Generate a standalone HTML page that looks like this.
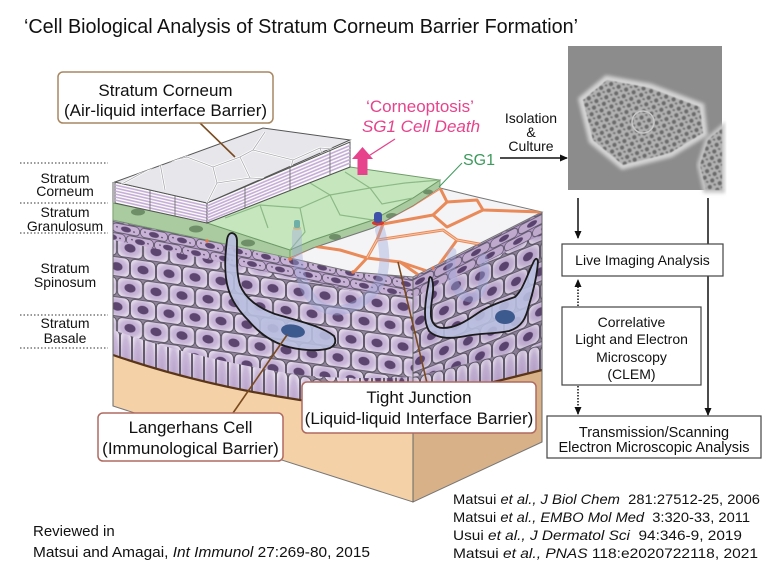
<!DOCTYPE html>
<html><head><meta charset="utf-8"><style>
html,body{margin:0;padding:0;background:#fff;}
svg{display:block;}
text{font-family:"Liberation Sans",Arial,sans-serif;fill:#111;}
</style></head><body>
<svg width="768" height="576" viewBox="0 0 768 576" xmlns="http://www.w3.org/2000/svg">
<defs>
<radialGradient id="cg" cx="50%" cy="50%" r="62%"><stop offset="0" stop-color="#b9a3cb"/><stop offset="0.6" stop-color="#c9b7d8"/><stop offset="1" stop-color="#efe9f3"/></radialGradient>
<pattern id="spin" width="26" height="40" patternUnits="userSpaceOnUse" patternTransform="skewY(8)">
<rect width="26" height="40" fill="#8f8498"/>
<rect x="0.5" y="0.5" width="25" height="19" rx="5" fill="url(#cg)" stroke="#4e4858" stroke-width="0.8"/>
<ellipse cx="13" cy="10" rx="5.5" ry="4.2" fill="#5c4670"/>
<rect x="-12.5" y="20.5" width="25" height="19" rx="5" fill="url(#cg)" stroke="#4e4858" stroke-width="0.8"/>
<rect x="13.5" y="20.5" width="25" height="19" rx="5" fill="url(#cg)" stroke="#4e4858" stroke-width="0.8"/>
<ellipse cx="0" cy="30" rx="5.5" ry="4.2" fill="#5c4670"/>
<ellipse cx="26" cy="30" rx="5.5" ry="4.2" fill="#5c4670"/>
</pattern>
<pattern id="spinR" width="24" height="40" patternUnits="userSpaceOnUse" patternTransform="skewY(-22)">
<rect width="24" height="40" fill="#8f8498"/>
<rect x="0.5" y="0.5" width="23" height="19" rx="5" fill="url(#cg)" stroke="#4e4858" stroke-width="0.8"/>
<ellipse cx="12" cy="10" rx="5" ry="4.2" fill="#5c4670"/>
<rect x="-11.5" y="20.5" width="23" height="19" rx="5" fill="url(#cg)" stroke="#4e4858" stroke-width="0.8"/>
<rect x="12.5" y="20.5" width="23" height="19" rx="5" fill="url(#cg)" stroke="#4e4858" stroke-width="0.8"/>
<ellipse cx="0" cy="30" rx="5" ry="4.2" fill="#5c4670"/>
<ellipse cx="24" cy="30" rx="5" ry="4.2" fill="#5c4670"/>
</pattern>
<pattern id="bas" width="12" height="60" patternUnits="userSpaceOnUse" patternTransform="skewY(14)">
<rect width="12" height="60" fill="#8f8498"/>
<rect x="0.5" y="0.5" width="11" height="59" rx="5" fill="url(#cg)" stroke="#4e4858" stroke-width="0.8"/>
<ellipse cx="6" cy="44" rx="3" ry="6.5" fill="#5c4670"/>
</pattern>
<pattern id="basR" width="12" height="60" patternUnits="userSpaceOnUse" patternTransform="skewY(-14)">
<rect width="12" height="60" fill="#8f8498"/>
<rect x="0.5" y="0.5" width="11" height="59" rx="5" fill="url(#cg)" stroke="#4e4858" stroke-width="0.8"/>
<ellipse cx="6" cy="44" rx="3" ry="6.5" fill="#5c4670"/>
</pattern>
<pattern id="gran" width="28" height="20" patternUnits="userSpaceOnUse" patternTransform="skewY(11)">
<rect width="28" height="20" fill="#b69cc8"/>
<rect x="0.5" y="0.5" width="27" height="9" rx="4" fill="#c8b3d6" stroke="#4e4858" stroke-width="0.7"/>
<rect x="-13.5" y="10.5" width="27" height="9" rx="4" fill="#c8b3d6" stroke="#4e4858" stroke-width="0.7"/>
<rect x="14.5" y="10.5" width="27" height="9" rx="4" fill="#c8b3d6" stroke="#4e4858" stroke-width="0.7"/>
<ellipse cx="14" cy="5" rx="5" ry="2.8" fill="#5c4670"/>
<ellipse cx="0" cy="15" rx="5" ry="2.8" fill="#5c4670"/>
<ellipse cx="28" cy="15" rx="5" ry="2.8" fill="#5c4670"/>
<circle cx="5" cy="4" r="0.8" fill="#3e3050"/><circle cx="22" cy="6" r="0.8" fill="#3e3050"/>
<circle cx="8" cy="15" r="0.8" fill="#3e3050"/><circle cx="20" cy="14" r="0.8" fill="#3e3050"/>
</pattern>
<pattern id="granR" width="28" height="20" patternUnits="userSpaceOnUse" patternTransform="skewY(-27)">
<rect width="28" height="20" fill="#b69cc8"/>
<rect x="0.5" y="0.5" width="27" height="9" rx="4" fill="#c8b3d6" stroke="#4e4858" stroke-width="0.7"/>
<rect x="-13.5" y="10.5" width="27" height="9" rx="4" fill="#c8b3d6" stroke="#4e4858" stroke-width="0.7"/>
<rect x="14.5" y="10.5" width="27" height="9" rx="4" fill="#c8b3d6" stroke="#4e4858" stroke-width="0.7"/>
<ellipse cx="14" cy="5" rx="5" ry="2.8" fill="#5c4670"/>
<ellipse cx="0" cy="15" rx="5" ry="2.8" fill="#5c4670"/>
<ellipse cx="28" cy="15" rx="5" ry="2.8" fill="#5c4670"/>
</pattern>
<pattern id="tex" width="8" height="7" patternUnits="userSpaceOnUse" patternTransform="rotate(20)">
<rect width="8" height="7" fill="#b2b2b2"/>
<circle cx="3" cy="3" r="2.2" fill="#6a6a6a"/>
<circle cx="7" cy="6.5" r="1.6" fill="#727272"/>
</pattern>
<filter id="bl" x="-20%" y="-20%" width="140%" height="140%"><feGaussianBlur stdDeviation="1.8"/></filter>
<filter id="bl2" x="-5%" y="-5%" width="110%" height="110%"><feGaussianBlur stdDeviation="0.5"/></filter>
<clipPath id="cTop"><path d="M115,182 L263,128 L350,140 L207,203 Z"/></clipPath>
<clipPath id="cGreen"><path d="M207,223 L350,167 L440,180 L413,198 L373,220 L313,240 L290,250 Z"/></clipPath>
<clipPath id="cWhite"><path d="M440,188 L477,197 L542,212 L413,277 L353,272 L290,258 L313,248 L373,228 L413,206 Z"/></clipPath>
<marker id="ah" markerWidth="8" markerHeight="8" refX="7" refY="4" orient="auto" markerUnits="userSpaceOnUse"><path d="M0,0.5 L8,4 L0,7.5 Z" fill="#111"/></marker>
</defs>

<!-- Title -->
<text x="24" y="33" font-size="20" textLength="554" lengthAdjust="spacingAndGlyphs">‘Cell Biological Analysis of Stratum Corneum Barrier Formation’</text>

<!-- Left layer labels -->
<g stroke="#333" stroke-width="1" stroke-dasharray="1.5 2">
<line x1="20" y1="163" x2="108" y2="163"/>
<line x1="20" y1="203" x2="108" y2="203"/>
<line x1="20" y1="233" x2="108" y2="233"/>
<line x1="20" y1="315" x2="108" y2="315"/>
<line x1="20" y1="348" x2="108" y2="348"/>
</g>
<g font-size="14" text-anchor="middle">
<text x="65" y="183">Stratum</text><text x="65" y="196">Corneum</text>
<text x="65" y="217">Stratum</text><text x="65" y="231">Granulosum</text>
<text x="65" y="273">Stratum</text><text x="65" y="287">Spinosum</text>
<text x="65" y="328">Stratum</text><text x="65" y="343">Basale</text>
</g>

<!-- Tan base -->
<path d="M113,355 Q200,385 300,400 Q350,405 413,402 L413,502 L113,406 Z" fill="#f4d1a6" stroke="#777" stroke-width="1"/>
<path d="M413,402 L542,370 L542,442 L413,502 Z" fill="#d8b189" stroke="#777" stroke-width="1"/>

<!-- Purple front face -->
<path d="M113,220 L207,240 L290,258 L353,272 L413,277 L413,402 Q350,405 300,400 Q200,385 113,355 Z" fill="url(#spin)"/>
<path d="M113,330 Q200,360 300,375 Q350,380 413,377 L413,402 Q350,405 300,400 Q200,385 113,355 Z" fill="url(#bas)"/>
<path d="M113,220 L207,240 L290,258 L353,272 L413,277 L413,296 L353,291 L290,277 L207,259 L113,240 Z" fill="url(#gran)"/>
<!-- Purple right face -->
<path d="M413,277 L542,212 L542,370 L413,402 Z" fill="url(#spinR)"/>
<path d="M413,377 L542,345 L542,370 L413,402 Z" fill="url(#basR)"/>
<path d="M413,277 L542,212 L542,234 L413,298 Z" fill="url(#granR)"/>
<path d="M413,277 L542,212 L542,370 L413,402 Z" fill="#3a2a50" opacity="0.06"/>
<path d="M113,355 Q200,385 300,400 Q350,405 413,402 L542,370" fill="none" stroke="#5a3518" stroke-width="2.2"/>
<line x1="113" y1="182" x2="113" y2="406" stroke="#666" stroke-width="1"/>
<line x1="413" y1="277" x2="413" y2="502" stroke="#666" stroke-width="1"/>
<line x1="542" y1="212" x2="542" y2="442" stroke="#666" stroke-width="1"/>

<!-- Green front band -->
<path d="M113,203 L207,223 L290,250 L290,258 L207,240 L113,220 Z" fill="#aacb9f" stroke="#6d9a66" stroke-width="0.8"/>
<g fill="#6f8f69"><ellipse cx="138" cy="212" rx="7" ry="3.5"/><ellipse cx="196" cy="229" rx="7" ry="3.5"/><ellipse cx="248" cy="243" rx="7" ry="3.5"/></g>
<path d="M290,250 L313,240 L373,220 L413,198 L440,180 L440,188 L413,206 L373,228 L313,248 L290,258 Z" fill="#aacb9f" stroke="#6d9a66" stroke-width="0.8"/>
<g fill="#6f8f69"><ellipse cx="335" cy="237" rx="6" ry="3"/><ellipse cx="392" cy="216" rx="6" ry="3"/><ellipse cx="428" cy="192" rx="5" ry="2.5"/></g>
<path d="M207,223 L350,167 L440,180 L413,198 L373,220 L313,240 L290,250 Z" fill="#c6e7be" stroke="#6d9a66" stroke-width="1"/>
<g clip-path="url(#cGreen)" fill="none" stroke="#8db985" stroke-width="1.2">
<path d="M225,218 L260,205 L300,208 L330,195 L370,188 L405,183 L440,180"/>
<path d="M260,205 L268,228"/><path d="M300,208 L305,232 L290,250"/>
<path d="M330,195 L340,215 L373,220"/><path d="M370,188 L382,204 L413,198"/>
<path d="M305,180 L330,195"/><path d="M345,172 L370,188"/>
</g>

<!-- White TJ top -->
<path d="M440,188 L477,197 L542,212 L413,277 L353,272 L290,258 L313,248 L373,228 L413,206 Z" fill="#f4f4f6" stroke="#777" stroke-width="1"/>
<g clip-path="url(#cWhite)" fill="none" stroke="#e98a58" stroke-width="3" stroke-linejoin="round">
<path d="M290,258 L313,246 L373,226 L413,205 L440,188"/>
<path d="M440,188 L447,202 L477,200 L483,210 L542,212"/>
<path d="M313,246 L340,250 L367,258 L353,273"/>
<path d="M367,258 L400,262 L420,276"/>
<path d="M367,258 L377,240 L443,230 L457,240 L490,246"/>
<path d="M377,240 L383,224 L433,215 L447,227 L483,210"/>
<path d="M433,215 L447,202"/>
<path d="M400,262 L433,273"/>
<path d="M457,240 L433,273"/>
</g>
<g clip-path="url(#cWhite)" fill="none" stroke="#f7c7a8" stroke-width="1">
<path d="M290,258 L313,246 L373,226 L413,205 L440,188"/>
<path d="M367,258 L377,240 L443,230 L457,240 L490,246"/>
</g>

<!-- SC stack -->
<path d="M115,182 L207,203 L207,223 L115,203 Z" fill="#fbfbfc" stroke="#555" stroke-width="1"/>
<g stroke="#c6aed7" stroke-width="1.6">
<line x1="115" y1="185" x2="207" y2="206"/><line x1="115" y1="188" x2="207" y2="209"/>
<line x1="115" y1="191" x2="207" y2="212"/><line x1="115" y1="194" x2="207" y2="215"/>
<line x1="115" y1="197" x2="207" y2="218"/><line x1="115" y1="200" x2="207" y2="221"/>
</g>
<path d="M207,203 L350,142 L350,167 L207,223 Z" fill="#fbfbfc" stroke="#555" stroke-width="1"/>
<g stroke="#c6aed7" stroke-width="1.6">
<line x1="207" y1="206" x2="350" y2="145.5"/><line x1="207" y1="209" x2="350" y2="149"/>
<line x1="207" y1="212" x2="350" y2="152.5"/><line x1="207" y1="215" x2="350" y2="156"/>
<line x1="207" y1="218" x2="350" y2="159.5"/><line x1="207" y1="221" x2="350" y2="163"/>
</g>
<g stroke="#666" stroke-width="0.8">
<line x1="150" y1="190" x2="150" y2="211"/><line x1="175" y1="196" x2="175" y2="216"/>
<line x1="245" y1="187" x2="245" y2="208"/><line x1="290" y1="168" x2="290" y2="190"/><line x1="330" y1="151" x2="330" y2="175"/>
</g>
<path d="M115,182 L263,128 L350,140 L207,203 Z" fill="#e7e6ea" stroke="#555" stroke-width="1"/>
<g clip-path="url(#cTop)" fill="none">
<g stroke="#fff" stroke-width="2.4">
<path d="M120,185 L160,163 L187,157 L213,167 L240,157 L253,150 L293,160 L320,148 L345,150"/>
<path d="M187,157 L180,143 L205,136"/><path d="M213,167 L217,183 L207,203"/>
<path d="M217,183 L250,178 L287,180 L305,170"/><path d="M240,157 L250,178"/>
<path d="M160,163 L165,190"/><path d="M253,150 L265,132"/><path d="M293,160 L287,180"/><path d="M320,148 L325,162"/>
</g>
<g stroke="#a9a9b0" stroke-width="0.8">
<path d="M120,185 L160,163 L187,157 L213,167 L240,157 L253,150 L293,160 L320,148 L345,150"/>
<path d="M187,157 L180,143 L205,136"/><path d="M213,167 L217,183 L207,203"/>
<path d="M217,183 L250,178 L287,180 L305,170"/><path d="M240,157 L250,178"/>
<path d="M160,163 L165,190"/><path d="M253,150 L265,132"/><path d="M293,160 L287,180"/><path d="M320,148 L325,162"/>
</g>
</g>

<!-- ghost dendrites -->
<g fill="none" stroke="#9ea8dc" stroke-linecap="round" opacity="0.4">
<path d="M297,232 C296,262 300,290 318,305 C340,318 365,305 378,285 C388,268 384,245 380,230" stroke-width="10"/>
<path d="M452,252 C448,275 455,295 470,298 C483,298 487,275 483,258" stroke-width="9"/>
</g>
<ellipse cx="378" cy="223" rx="6" ry="2.5" fill="#e03525"/>
<rect x="374" y="212" width="8" height="11" rx="3" fill="#3d52a8"/>
<ellipse cx="297" cy="228" rx="4" ry="1.8" fill="#d8b070" opacity="0.8"/>
<rect x="294" y="220" width="6" height="8" rx="2" fill="#6eb0a8"/>
<g fill="#e27a4e"><circle cx="207" cy="241" r="1.8"/><circle cx="233" cy="248" r="1.8"/><circle cx="290" cy="259" r="1.8"/><circle cx="353" cy="272" r="1.8"/><circle cx="433" cy="268" r="1.6"/></g>

<!-- Langerhans cells -->
<path d="M232,233 Q237,234 237,241 C237,255 236,272 240,285 C245,298 258,308 275,314 C295,320 322,326 334,336 Q338,344 330,348 C318,352 298,350 285,346 C270,341 258,332 248,320 C236,308 228,295 226,278 C224,262 226,248 227,240 Q228,233 232,233 Z" fill="#b9bfe0" fill-opacity="0.9" stroke="#1b1b1b" stroke-width="1.8"/>
<ellipse cx="293" cy="331" rx="12" ry="6.5" fill="#3d5a8e" transform="rotate(8 293 331)"/>
<path d="M432,279 C435,290 431,300 431,310 C430,321 434,328 443,328 C455,328 465,322 478,313 C488,306 503,301 515,297 C523,290 527,275 534,261 Q537,256 538,262 C537,275 533,292 529,305 C526,318 522,327 509,331 C495,334 480,333 466,336 C451,339 437,339 429,331 C423,321 425,305 427,292 C428,286 429,282 429,279 Q430,275 432,279 Z" fill="#b9bfe0" fill-opacity="0.9" stroke="#1b1b1b" stroke-width="1.8"/>
<ellipse cx="505" cy="317" rx="10" ry="7" fill="#3d5a8e"/>

<!-- leader lines -->
<line x1="200" y1="123" x2="235" y2="157" stroke="#7a4a1e" stroke-width="1.6"/>
<line x1="233" y1="413" x2="287" y2="335" stroke="#7a4a1e" stroke-width="1.6"/>
<line x1="427" y1="383" x2="398" y2="262" stroke="#7a4a1e" stroke-width="1.6"/>
<line x1="462" y1="163" x2="439" y2="187" stroke="#3c9a5c" stroke-width="1"/>
<line x1="395" y1="139" x2="367" y2="157" stroke="#e6438c" stroke-width="1.2"/>
<path d="M362.5,147 L373,159 L367.5,159 L367.5,175 L357.5,175 L357.5,159 L352,159 Z" fill="#e6438c"/>

<!-- label boxes -->
<rect x="58" y="72" width="215" height="51" rx="5" fill="#fff" stroke="#a88660" stroke-width="1.5"/>
<text x="165.5" y="96" font-size="17" text-anchor="middle">Stratum Corneum</text>
<text x="165.5" y="116" font-size="17" text-anchor="middle">(Air-liquid interface Barrier)</text>
<rect x="98" y="413" width="185" height="48" rx="5" fill="#fff" stroke="#b06a60" stroke-width="1.5"/>
<text x="190.5" y="433" font-size="17" text-anchor="middle">Langerhans Cell</text>
<text x="190.5" y="454" font-size="17" text-anchor="middle">(Immunological Barrier)</text>
<rect x="302" y="382" width="234" height="51" rx="5" fill="#fff" stroke="#b06a60" stroke-width="1.5"/>
<text x="419" y="403" font-size="17" text-anchor="middle">Tight Junction</text>
<text x="419" y="424" font-size="17" text-anchor="middle">(Liquid-liquid Interface Barrier)</text>

<text x="420" y="112" font-size="17" text-anchor="middle" style="fill:#e6438c">‘Corneoptosis’</text>
<text x="421" y="132" font-size="17" text-anchor="middle" font-style="italic" style="fill:#e6438c">SG1 Cell Death</text>
<text x="463" y="165" font-size="16" style="fill:#3c9a5c">SG1</text>

<g font-size="14" text-anchor="middle">
<text x="531" y="123">Isolation</text><text x="531" y="137">&amp;</text><text x="531" y="151">Culture</text>
</g>
<line x1="500" y1="158" x2="567" y2="158" stroke="#111" stroke-width="1.5" marker-end="url(#ah)"/>

<!-- micrograph -->
<rect x="568" y="46" width="154" height="144" fill="#8c8c8c"/>
<path d="M583,100 L607,80 L650,88 L700,107 L703,133 L670,153 L623,165 L593,140 Z" fill="none" stroke="#d4d4d4" stroke-width="9" filter="url(#bl)"/>
<path d="M583,100 L607,80 L650,88 L700,107 L703,133 L670,153 L623,165 L593,140 Z" fill="url(#tex)" filter="url(#bl2)"/>
<circle cx="643" cy="122" r="11" fill="none" stroke="#c8c8c8" stroke-width="1.5"/>
<path d="M722,128 L708,140 L700,165 L706,190 L722,190 Z" fill="none" stroke="#c8c8c8" stroke-width="6" filter="url(#bl)"/>
<path d="M722,128 L708,140 L700,165 L706,190 L722,190 Z" fill="url(#tex)" filter="url(#bl2)"/>

<!-- flow -->
<line x1="578" y1="198" x2="578" y2="238" stroke="#111" stroke-width="1.5" marker-end="url(#ah)"/>
<line x1="708" y1="198" x2="708" y2="415" stroke="#111" stroke-width="1.5" marker-end="url(#ah)"/>
<line x1="578" y1="306" x2="578" y2="280" stroke="#111" stroke-width="1.5" stroke-dasharray="1.5 1.5" marker-end="url(#ah)"/>
<line x1="578" y1="386" x2="578" y2="414" stroke="#111" stroke-width="1.5" stroke-dasharray="1.5 1.5" marker-end="url(#ah)"/>
<rect x="562" y="244" width="161" height="32" fill="#fff" stroke="#444" stroke-width="1.2"/>
<text x="642.5" y="265" font-size="14" text-anchor="middle">Live Imaging Analysis</text>
<rect x="562" y="307" width="139" height="78" fill="#fff" stroke="#444" stroke-width="1.2"/>
<g font-size="14" text-anchor="middle">
<text x="631.5" y="327">Correlative</text>
<text x="631.5" y="344">Light and Electron</text>
<text x="631.5" y="362">Microscopy</text>
<text x="631.5" y="379">(CLEM)</text>
</g>
<rect x="547" y="416" width="214" height="42" fill="#fff" stroke="#444" stroke-width="1.2"/>
<text x="654" y="437" font-size="14.5" text-anchor="middle">Transmission/Scanning</text>
<text x="654" y="452" font-size="14.5" text-anchor="middle">Electron Microscopic Analysis</text>

<!-- references -->
<g font-size="14">
<text x="453" y="504" textLength="307" lengthAdjust="spacingAndGlyphs">Matsui <tspan font-style="italic">et al., J Biol Chem</tspan>&#160; 281:27512-25, 2006</text>
<text x="453" y="522" textLength="297" lengthAdjust="spacingAndGlyphs">Matsui <tspan font-style="italic">et al., EMBO Mol Med</tspan>&#160; 3:320-33, 2011</text>
<text x="453" y="540" textLength="289" lengthAdjust="spacingAndGlyphs">Usui <tspan font-style="italic">et al., J Dermatol Sci</tspan>&#160; 94:346-9, 2019</text>
<text x="453" y="558" textLength="305" lengthAdjust="spacingAndGlyphs">Matsui <tspan font-style="italic">et al., PNAS</tspan> 118:e2020722118, 2021</text>
</g>
<text x="33" y="536" font-size="15">Reviewed in</text>
<text x="33" y="557" font-size="15" textLength="337" lengthAdjust="spacingAndGlyphs">Matsui and Amagai, <tspan font-style="italic">Int Immunol</tspan> 27:269-80, 2015</text>
</svg>
</body></html>
